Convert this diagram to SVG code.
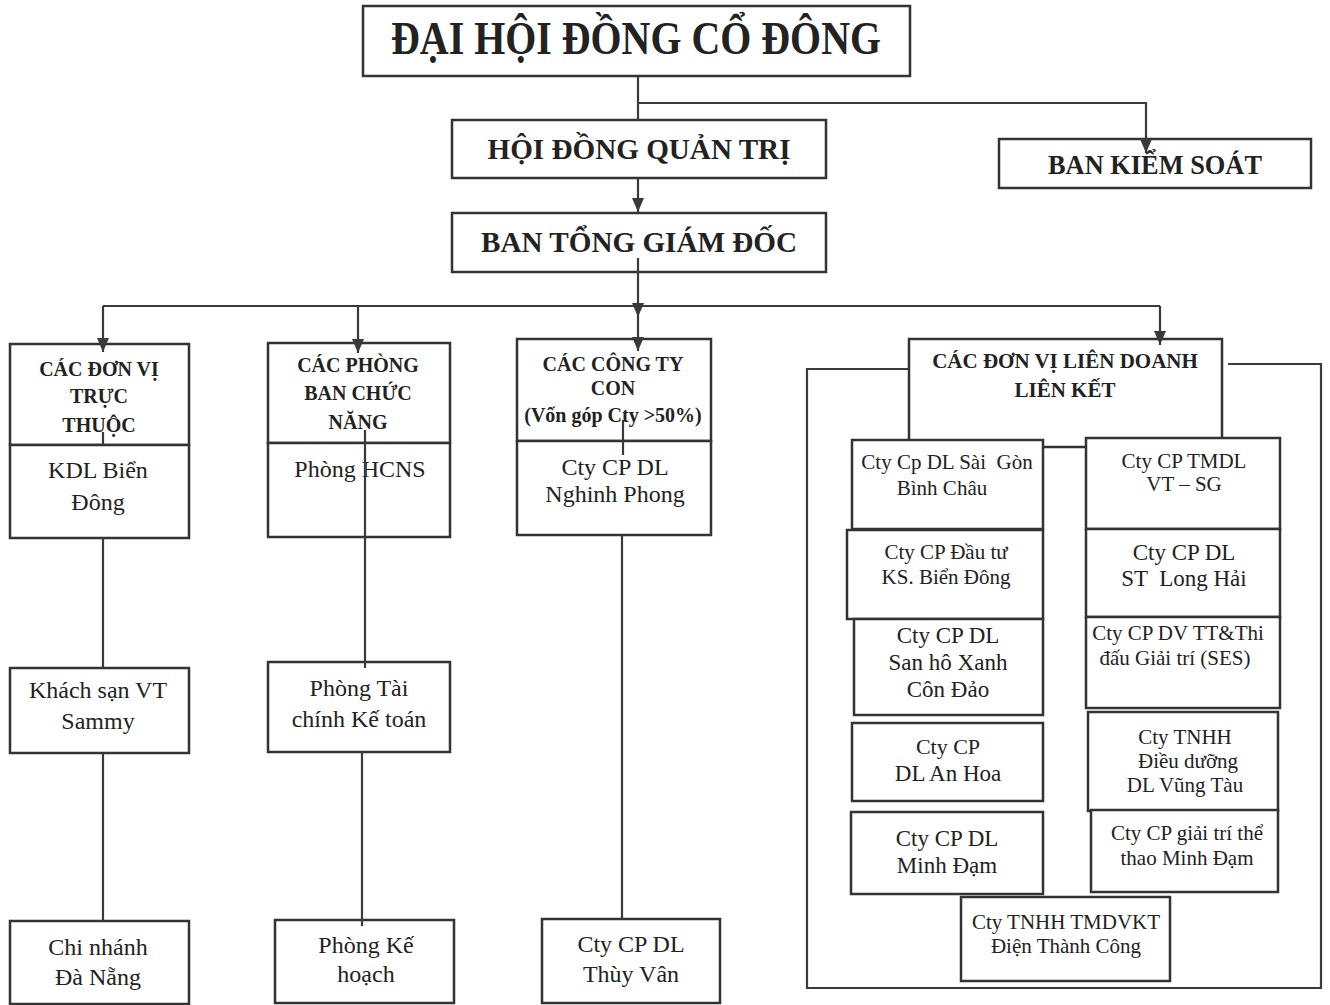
<svg xmlns="http://www.w3.org/2000/svg" width="1330" height="1005" viewBox="0 0 1330 1005">
<defs>
<style>
.b{fill:#fff;stroke:#333;stroke-width:2.5}
.t{font-family:"Liberation Serif","Times New Roman",serif;fill:#222;text-anchor:middle}
.hb{font-weight:bold}
.c{fill:none;stroke:#3a3a3a;stroke-width:2.2}
.s21{font-size:21px}
.s24{font-size:24px}
.s20{font-size:20px}
.pre{white-space:pre}
</style>
<marker id="ar" viewBox="0 0 14 12" refX="14" refY="6" markerWidth="14" markerHeight="12" markerUnits="userSpaceOnUse" orient="auto">
<path d="M0,0 L14,6 L0,12 z" fill="#3a3a3a"/>
</marker>
</defs>
<rect width="1330" height="1005" fill="#fff"/>

<g id="dhdcd">
<rect class="b" x="363" y="6" width="547" height="70"/>
<text class="t hb" x="636" y="54" font-size="46" textLength="490" lengthAdjust="spacingAndGlyphs">ĐẠI HỘI ĐỒNG CỔ ĐÔNG</text>
</g>
<g id="hdqt">
<rect class="b" x="452" y="120" width="374" height="58"/>
<text class="t hb" x="639" y="159" font-size="29" textLength="303" lengthAdjust="spacingAndGlyphs">HỘI ĐỒNG QUẢN TRỊ</text>
</g>
<g id="bks">
<rect class="b" x="999" y="139" width="312" height="49"/>
<text class="t hb" x="1155" y="174" font-size="27" textLength="214" lengthAdjust="spacingAndGlyphs">BAN KIỂM SOÁT</text>
</g>
<g id="btgd">
<rect class="b" x="452" y="213" width="374" height="59"/>
<text class="t hb" x="639" y="252" font-size="29" textLength="316" lengthAdjust="spacingAndGlyphs">BAN TỔNG GIÁM ĐỐC</text>
</g>

<!-- Column 1 -->
<g id="dvtt">
<rect class="b" x="10" y="344" width="179" height="101"/>
<text class="t hb s20" x="99" y="376">CÁC ĐƠN VỊ</text>
<text class="t hb s20" x="99" y="403">TRỰC</text>
<text class="t hb s20" x="99" y="432">THUỘC</text>
</g>
<g id="kdl">
<rect class="b" x="10" y="445" width="179" height="93"/>
<text class="t s24" x="98" y="478">KDL Biển</text>
<text class="t s24" x="98" y="510">Đông</text>
</g>
<g id="ksvt">
<rect class="b" x="10" y="668" width="179" height="85"/>
<text class="t s24" x="98" y="698">Khách sạn VT</text>
<text class="t s24" x="98" y="729">Sammy</text>
</g>
<g id="cndn">
<rect class="b" x="10" y="921" width="179" height="83"/>
<text class="t s24" x="98" y="955">Chi nhánh</text>
<text class="t s24" x="98" y="985">Đà Nẵng</text>
</g>

<!-- Column 2 -->
<g id="pbcn">
<rect class="b" x="268" y="343" width="182" height="100"/>
<text class="t hb s20" x="358" y="372">CÁC PHÒNG</text>
<text class="t hb s20" x="358" y="400">BAN CHỨC</text>
<text class="t hb s20" x="358" y="429">NĂNG</text>
</g>
<g id="hcns">
<rect class="b" x="268" y="443" width="182" height="94"/>
<text class="t s24" x="360" y="477">Phòng HCNS</text>
</g>
<g id="tckt">
<rect class="b" x="268" y="662" width="182" height="90"/>
<text class="t s24" x="359" y="696">Phòng Tài</text>
<text class="t s24" x="359" y="727">chính Kế toán</text>
</g>
<g id="pkh">
<rect class="b" x="275" y="920" width="179" height="83"/>
<text class="t s24" x="366" y="953">Phòng Kế</text>
<text class="t s24" x="366" y="982">hoạch</text>
</g>

<!-- Column 3 -->
<g id="ctcon">
<rect class="b" x="517" y="339" width="194" height="102"/>
<text class="t hb s20" x="613" y="371">CÁC CÔNG TY</text>
<text class="t hb s20" x="613" y="395">CON</text>
<text class="t hb s20" x="613" y="422">(Vốn góp Cty &gt;50%)</text>
</g>
<g id="nghinhphong">
<rect class="b" x="517" y="441" width="194" height="94"/>
<text class="t s24" x="615" y="475">Cty CP DL</text>
<text class="t s24" x="615" y="502">Nghinh Phong</text>
</g>
<g id="thuyvan">
<rect class="b" x="542" y="919" width="178" height="84"/>
<text class="t s24" x="631" y="952">Cty CP DL</text>
<text class="t s24" x="631" y="982">Thùy Vân</text>
</g>

<!-- Column 4 -->
<g id="lienket-frame">
<polyline class="c" points="909,369 807,369 807,988 1321,988 1321,364 1228,364"/>
<line class="c" x1="807" y1="369" x2="905" y2="369" stroke-width="3.5"/>
</g>
<g id="ldlk">
<rect class="b" x="909" y="339" width="313" height="108"/>
<text class="t hb" x="1065" y="368" font-size="21">CÁC ĐƠN VỊ LIÊN DOANH</text>
<text class="t hb" x="1065" y="397" font-size="21">LIÊN KẾT</text>
</g>
<g id="saigonbinhchau">
<rect class="b" x="852" y="440" width="191" height="89"/>
<text class="t s21 pre" x="947" y="469" xml:space="preserve">Cty Cp DL Sài  Gòn</text>
<text class="t s21" x="942" y="495">Bình Châu</text>
</g>
<g id="dautuks">
<rect class="b" x="847" y="530" width="196" height="89"/>
<text class="t s21" x="946" y="559">Cty CP Đầu tư</text>
<text class="t s21" x="946" y="584">KS. Biển Đông</text>
</g>
<g id="sanho">
<rect class="b" x="854" y="619" width="189" height="96"/>
<text class="t" x="948" y="643" font-size="23">Cty CP DL</text>
<text class="t" x="948" y="670" font-size="23">San hô Xanh</text>
<text class="t" x="948" y="697" font-size="23">Côn Đảo</text>
</g>
<g id="anhoa">
<rect class="b" x="852" y="723" width="191" height="78"/>
<text class="t" x="948" y="754" font-size="22">Cty CP</text>
<text class="t" x="948" y="781" font-size="23">DL An Hoa</text>
</g>
<g id="minhdam">
<rect class="b" x="851" y="812" width="192" height="82"/>
<text class="t" x="947" y="846" font-size="23">Cty CP DL</text>
<text class="t" x="947" y="873" font-size="23">Minh Đạm</text>
</g>
<g id="tmdl">
<rect class="b" x="1086" y="438" width="194" height="91"/>
<text class="t s21" x="1184" y="468">Cty CP TMDL</text>
<text class="t s21" x="1184" y="491">VT – SG</text>
</g>
<g id="longhai">
<rect class="b" x="1086" y="529" width="194" height="88"/>
<text class="t" x="1184" y="560" font-size="23">Cty CP DL</text>
<text class="t pre" x="1184" y="586" font-size="23" xml:space="preserve">ST  Long Hải</text>
</g>
<g id="ses">
<rect class="b" x="1086" y="617" width="194" height="91"/>
<text class="t s21" x="1178" y="640">Cty CP DV TT&amp;Thi</text>
<text class="t s21" x="1175" y="665">đấu Giải trí (SES)</text>
</g>
<g id="vungtau">
<rect class="b" x="1088" y="712" width="190" height="99"/>
<text class="t s21" x="1185" y="744">Cty TNHH</text>
<text class="t s21" x="1188" y="768">Điều dưỡng</text>
<text class="t s21" x="1185" y="792">DL Vũng Tàu</text>
</g>
<g id="giaitri">
<rect class="b" x="1091" y="810" width="187" height="82"/>
<text class="t s21" x="1187" y="840">Cty CP giải trí thể</text>
<text class="t s21" x="1187" y="865">thao Minh Đạm</text>
</g>
<g id="dienthanhcong">
<rect class="b" x="961" y="897" width="209" height="84"/>
<text class="t s21" x="1066" y="929">Cty TNHH TMDVKT</text>
<text class="t s21" x="1066" y="953">Điện Thành Công</text>
</g>

<!-- Connectors -->
<g id="connectors">
<line class="c" x1="638" y1="77" x2="638" y2="121"/>
<polyline class="c" points="638,103 1146,103 1146,153" marker-end="url(#ar)"/>
<line class="c" x1="638" y1="179" x2="638" y2="212" marker-end="url(#ar)"/>
<line class="c" x1="638" y1="258" x2="638" y2="317" marker-end="url(#ar)"/>
<line class="c" x1="638" y1="317" x2="638" y2="351" marker-end="url(#ar)"/>
<line class="c" x1="103" y1="306" x2="1160" y2="306"/>
<line class="c" x1="103" y1="306" x2="103" y2="352" marker-end="url(#ar)"/>
<line class="c" x1="358" y1="306" x2="358" y2="353" marker-end="url(#ar)"/>
<line class="c" x1="1160" y1="306" x2="1160" y2="345" marker-end="url(#ar)"/>
<line class="c" x1="103" y1="432" x2="103" y2="445"/>
<line class="c" x1="103" y1="538" x2="103" y2="668"/>
<line class="c" x1="103" y1="753" x2="103" y2="921"/>
<line class="c" x1="365" y1="430" x2="365" y2="668"/>
<line class="c" x1="362" y1="752" x2="362" y2="926"/>
<line class="c" x1="623" y1="420" x2="623" y2="455"/>
<line class="c" x1="622" y1="535" x2="622" y2="919"/>
</g>
</svg>
